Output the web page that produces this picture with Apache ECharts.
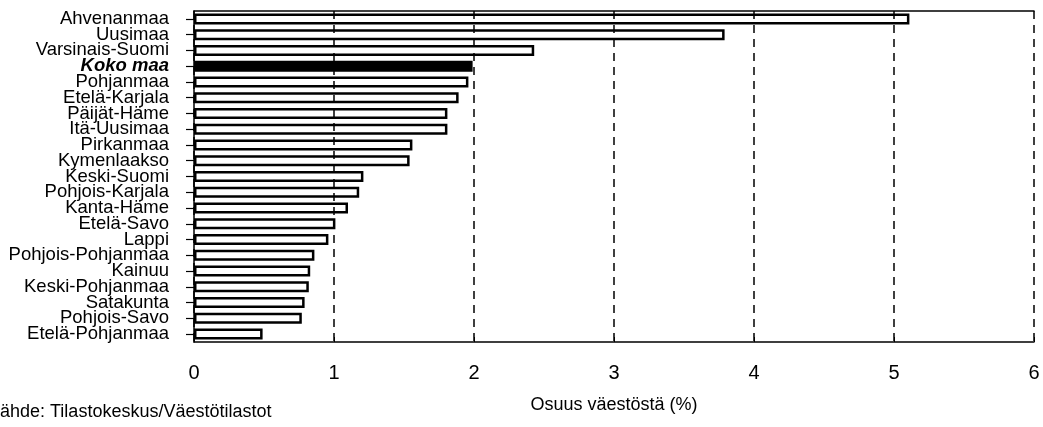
<!DOCTYPE html>
<html>
<head>
<meta charset="utf-8">
<script src="https://cdn.jsdelivr.net/npm/echarts@6/dist/echarts.min.js"></script>
<style>html,body{margin:0;padding:0;background:#fff}#c{width:1043px;height:427px}</style>
</head>
<body>
<div id="c"></div>
<script>
var categories = ["Ahvenanmaa","Uusimaa","Varsinais-Suomi","Koko maa","Pohjanmaa","Etelä-Karjala","Päijät-Häme","Itä-Uusimaa","Pirkanmaa","Kymenlaakso","Keski-Suomi","Pohjois-Karjala","Kanta-Häme","Etelä-Savo","Lappi","Pohjois-Pohjanmaa","Kainuu","Keski-Pohjanmaa","Satakunta","Pohjois-Savo","Etelä-Pohjanmaa"];
var values = [5.11,3.79,2.43,1.99,1.96,1.89,1.81,1.81,1.56,1.54,1.21,1.18,1.10,1.01,0.96,0.86,0.83,0.82,0.79,0.77,0.49];
var highlight = "Koko maa";
var xTicks = [0,1,2,3,4,5,6];
var xTitle = "Osuus väestöstä (%)";
var sourceText = "ähde: Tilastokeskus/Väestötilastot";

var FONT = "Liberation Sans";
var chart = echarts.init(document.getElementById('c'), null, {renderer:'canvas'});
var barData = values.map(function(v,i){
  var isH = categories[i] === highlight;
  return {value: v, itemStyle: {color: isH ? '#000' : 'rgba(255,255,255,0)', borderColor:'#000', borderWidth:2.5}};
});
chart.setOption({
  animation:false,
  backgroundColor:'#fff',
  grid:{left:194,right:9,top:11,bottom:85,containLabel:false},
  xAxis:[{
    type:'value',min:xTicks[0],max:xTicks[xTicks.length-1],interval:1,
    position:'bottom',
    axisLine:{show:true,lineStyle:{color:'#000',width:1.5}},
    axisTick:{show:true,inside:true,length:5,lineStyle:{color:'#000'}},
    axisLabel:{color:'#000',fontFamily:FONT,fontSize:20,margin:21},
    splitLine:{show:true,lineStyle:{color:'#000',type:[8,6],width:1.5}},
    name:xTitle,nameLocation:'middle',nameGap:54,
    nameTextStyle:{color:'#000',fontFamily:FONT,fontSize:18}
  },{
    type:'value',min:xTicks[0],max:xTicks[xTicks.length-1],interval:1,
    position:'top',
    axisLine:{show:true,lineStyle:{color:'#000',width:1.5}},
    axisTick:{show:false},axisLabel:{show:false},splitLine:{show:false}
  }],
  yAxis:{
    type:'category',data:categories,inverse:true,
    axisLine:{show:true,lineStyle:{color:'#000',width:1.5}},
    axisTick:{show:true,alignWithLabel:true,length:8,lineStyle:{color:'#000',width:1.2}},
    axisLabel:{interval:0,color:'#000',fontFamily:FONT,fontSize:18.5,margin:25,lineHeight:16,
      formatter:function(v){return v===highlight?'{h|'+v+'}':v;},
      rich:{h:{fontWeight:'bold',fontStyle:'italic',fontFamily:FONT,fontSize:18.5,lineHeight:16,color:'#000'}}},
    splitLine:{show:false}
  },
  series:[{
    type:'bar',data:barData,barWidth:11,xAxisIndex:0,
    itemStyle:{borderRadius:0}
  }],
  graphic:[{
    type:'text',left:0,top:403,
    style:{text:sourceText,fontFamily:FONT,fontSize:18,fill:'#000'}
  }]
});
</script>
</body>
</html>
